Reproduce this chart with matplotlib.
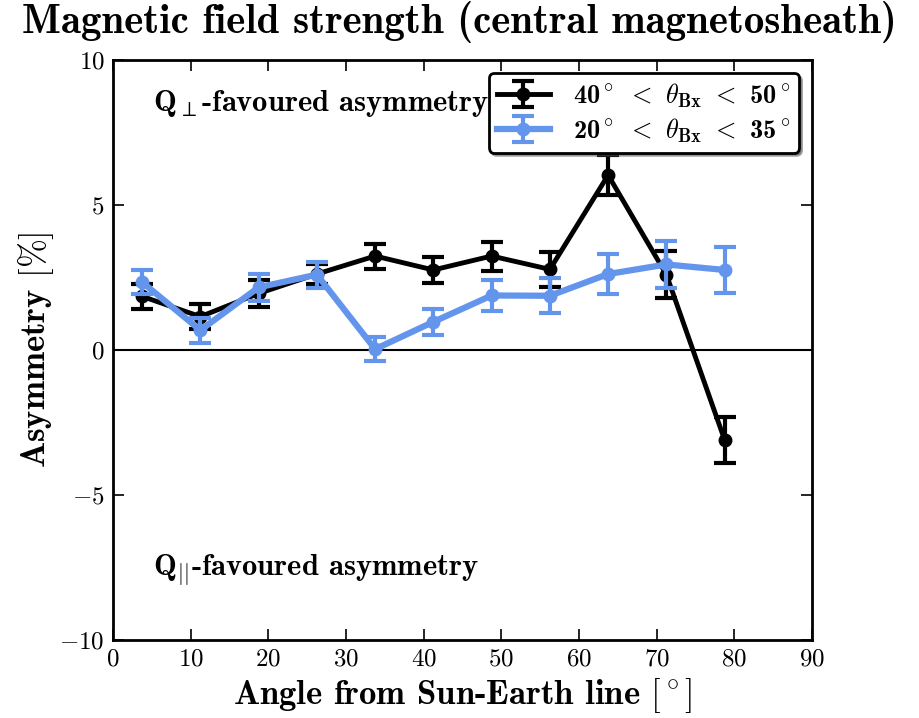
import numpy as np
import matplotlib
matplotlib.use("Agg")
import matplotlib.pyplot as plt

######################################
# DATA
######################################

angle = [3.75, 11.25, 18.75, 26.25, 33.75, 41.25, 48.75, 56.25, 63.75, 71.25, 78.75]

asym_40_50 = [1.85, 1.15, 1.95, 2.62, 3.24, 2.76, 3.24, 2.78, 6.03, 2.6, -3.1]
err_40_50 = [0.42, 0.42, 0.46, 0.35, 0.43, 0.45, 0.5, 0.6, 0.7, 0.8, 0.8]

asym_20_35 = [2.34, 0.68, 2.16, 2.6, 0.03, 0.97, 1.88, 1.87, 2.62, 2.95, 2.76]
err_20_35 = [0.42, 0.43, 0.46, 0.45, 0.42, 0.45, 0.52, 0.6, 0.7, 0.8, 0.8]

label_40_50 = r'40$^\circ$ $<$ $\theta_\mathbf{Bx}$ $<$ 50$^\circ$'
label_20_35 = r'20$^\circ$ $<$ $\theta_\mathbf{Bx}$ $<$ 35$^\circ$'

######################################
# PLOT
######################################

plt.rcParams['mathtext.fontset'] = 'cm'
plt.rcParams['axes.formatter.use_mathtext'] = True
plt.rcParams['font.family'] = 'cmr10'
plt.rcParams['axes.unicode_minus'] = True

fig = plt.figure(figsize=(9.19, 7.18), dpi=100)
ax = fig.add_axes([113/919., 1 - 640/718., 699/919., 580/718.])

ax.errorbar(angle, asym_40_50, yerr=err_40_50, color='black', lw=3.5, marker='o', ms=9,
            mec='black', capsize=8, capthick=3, elinewidth=3, label=label_40_50, zorder=3)
ax.errorbar(angle, asym_20_35, yerr=err_20_35, color='#6495ed', lw=4.5, marker='o', ms=9,
            mec='#6495ed', capsize=8, capthick=3, elinewidth=3, label=label_20_35, zorder=4)
ax.axhline(0, color='black', lw=1.5, zorder=2)

ax.set_xlim(0, 90)
ax.set_ylim(-10, 10)
ax.set_xticks(np.arange(0, 91, 10))
ax.set_yticks([-10, -5, 0, 5, 10])
ax.tick_params(direction='in', length=8, width=1.2, top=True, right=True, labelsize=18, pad=6)
for sp in ax.spines.values():
	sp.set_linewidth(2)

bold = dict(family='cmb10')
fig.text(0.5, 1 - 22/718., 'Magnetic field strength (central magnetosheath)', fontsize=29.5,
         ha='center', va='center', **bold)
ax.set_xlabel(r'Angle from Sun-Earth line $[^\circ]$', fontsize=25, fontdict=bold, labelpad=4)
ax.set_ylabel(r'Asymmetry $[\%]$', fontsize=25, fontdict=bold, labelpad=2)

ax.text(5.1, 8.5, r'Q$_\perp$-favoured asymmetry', fontsize=22, va='center', **bold)
ax.text(5.1, -7.6, r'Q$_{||}$-favoured asymmetry', fontsize=22, va='center', **bold)

leg = ax.legend(loc='upper right', prop={'family': 'cmb10', 'size': 19}, shadow=True, fancybox=True,
                borderaxespad=0.5, handlelength=2.0, numpoints=1, framealpha=1,
                borderpad=0.3, labelspacing=0.25, handletextpad=0.9)
leg.get_frame().set_edgecolor('black')
leg.get_frame().set_linewidth(2)

fig.savefig('out.png', dpi=100)
